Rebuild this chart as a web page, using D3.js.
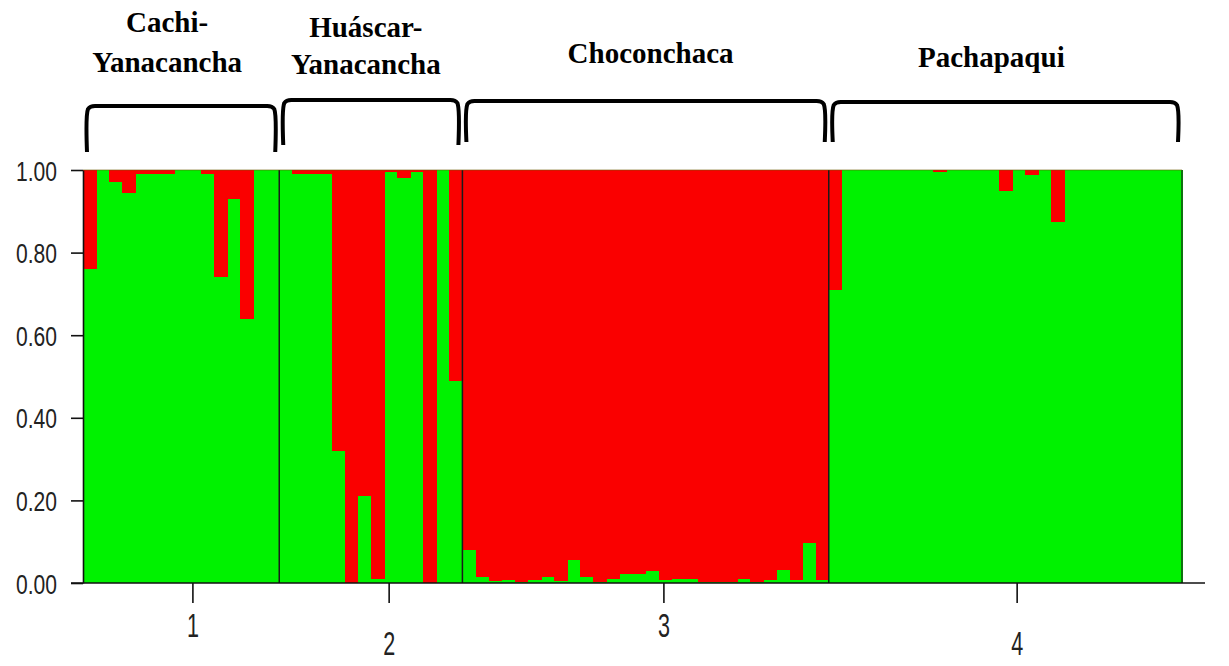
<!DOCTYPE html>
<html>
<head>
<meta charset="utf-8">
<script src="https://cdn.jsdelivr.net/npm/d3@7"></script>
<style>
  body { margin: 0; background: #fff; }
  svg { display: block; }
  .ylab text { font-family: "Liberation Sans", Arial, sans-serif; font-size: 28px; fill: #222; }
  .xlab { font-family: "Liberation Sans", Arial, sans-serif; font-size: 34px; fill: #222; }
  .title { font-family: "Liberation Serif", "Times New Roman", serif; font-weight: bold; font-size: 29px; fill: #000; }
</style>
</head>
<body>
<svg id="chart" width="1229" height="666"></svg>
<script>
// population labels + site names
var popLabels = ['1', '2', '3', '4'];
var popNames = [['Cachi-', 'Yanacancha'], ['Huáscar-', 'Yanacancha'], ['Choconchaca'], ['Pachapaqui']];

// membership in the green cluster per individual (red = 1 - green)
var pop1Green = [0.76, 1.0, 0.97, 0.945, 0.99, 0.99, 0.99, 1.0, 1.0, 0.99, 0.74, 0.93, 0.64, 1.0, 1.0];
var pop2Green = [1.0, 0.99, 0.99, 0.99, 0.32, 0.0, 0.21, 0.01, 0.995, 0.98, 0.995, 0.0, 1.0, 0.49];
var pop3Green = [0.08, 0.015, 0.004, 0.008, 0.003, 0.008, 0.014, 0.004, 0.055, 0.015, 0.003, 0.009, 0.022, 0.022,
                 0.029, 0.008, 0.009, 0.009, 0.003, 0.003, 0.003, 0.009, 0.003, 0.008, 0.031, 0.008, 0.098, 0.008];
var pop4Green = [0.71, 1.0, 1.0, 1.0, 1.0, 1.0, 1.0, 1.0, 0.995, 1.0, 1.0, 1.0, 1.0, 0.948,
                 1.0, 0.987, 1.0, 0.873, 1.0, 1.0, 1.0, 1.0, 1.0, 1.0, 1.0, 1.0, 1.0];

var yTicks = [0, 0.2, 0.4, 0.6, 0.8, 1.0];

var GREEN = '#00f200', RED = '#fa0000';

var svg = d3.select('#chart');

// build the individual list
var groups = [pop1Green, pop2Green, pop3Green, pop4Green];
var individuals = [];
var groupInfo = [];
groups.forEach(function (g, gi) {
  groupInfo.push({ start: individuals.length, n: g.length });
  g.forEach(function (v) { individuals.push({ pop: gi, green: v }); });
});

var x = d3.scaleBand().domain(d3.range(individuals.length)).range([83, 1182]).padding(0);
var y = d3.scaleLinear().domain([0, 1]).range([583, 170]);
var bw = x.bandwidth();

// bars: green at the bottom, red stacked above
var bars = svg.append('g').attr('shape-rendering', 'crispEdges');
bars.selectAll('rect.g').data(individuals).enter().append('rect')
  .attr('x', function (d, i) { return x(i); })
  .attr('width', bw + 0.6)
  .attr('y', function (d) { return y(d.green); })
  .attr('height', function (d) { return y(0) - y(d.green); })
  .attr('fill', GREEN);
bars.selectAll('rect.r').data(individuals).enter().append('rect')
  .attr('x', function (d, i) { return x(i); })
  .attr('width', bw + 0.6)
  .attr('y', y(1))
  .attr('height', function (d) { return y(d.green) - y(1); })
  .attr('fill', RED);

// population separators + frame
var frame = svg.append('g').attr('stroke', '#1a1a1a').attr('stroke-width', 1.5);
groupInfo.slice(1).forEach(function (g) {
  frame.append('line').attr('x1', x(g.start)).attr('x2', x(g.start)).attr('y1', y(1)).attr('y2', y(0));
});
frame.append('line').attr('x1', 1182).attr('x2', 1182).attr('y1', y(1)).attr('y2', y(0)).attr('stroke-width', 1.2);
frame.append('line').attr('x1', 83).attr('x2', 1182).attr('y1', y(1)).attr('y2', y(1))
  .attr('stroke', '#6b5a00').attr('stroke-width', 1).attr('opacity', 0.6);

// y axis (narrow, tall digits like the original screenshot)
var yAxis = d3.axisLeft(y).tickValues(yTicks).tickFormat(d3.format('.2f'))
  .tickSize(12).tickSizeOuter(0).tickPadding(14);
var ya = svg.append('g').attr('class', 'ylab').attr('transform', 'translate(83,0)').call(yAxis);
ya.selectAll('line').attr('stroke', '#111').attr('stroke-width', 1.6);
ya.select('.domain').attr('stroke', '#111').attr('stroke-width', 1.6);
ya.selectAll('text').attr('dy', '0.36em')
  .attr('textLength', 41).attr('lengthAdjust', 'spacingAndGlyphs');

// x axis line
svg.append('line').attr('x1', 71).attr('x2', 1205).attr('y1', y(0)).attr('y2', y(0))
  .attr('stroke', '#111').attr('stroke-width', 1.6);

// x ticks + staggered labels
groupInfo.forEach(function (g, gi) {
  var tx = x(g.start + Math.floor(g.n / 2) + 1) + 0.4 * bw;
  svg.append('line').attr('x1', tx).attr('x2', tx).attr('y1', y(0)).attr('y2', y(0) + 20)
    .attr('stroke', '#111').attr('stroke-width', 1.6);
  svg.append('text').attr('class', 'xlab').attr('x', tx - 6).attr('y', gi % 2 === 0 ? 637 : 655)
    .attr('textLength', 12).attr('lengthAdjust', 'spacingAndGlyphs')
    .text(popLabels[gi]);
});

// brackets + site titles
var titleDx = [-14, -5, 5, -14];
var titleBase = [[32, 72], [37, 74], [63], [67]];
var brTop = [106, 100, 101, 102];
var brBot = [152, 145, 142, 142];
groupInfo.forEach(function (g, gi) {
  var x0 = x(g.start) + 4, x1 = x(g.start + g.n - 1) + bw - 4;
  var t = brTop[gi], b = brBot[gi], r = 8;
  var p = d3.path();
  p.moveTo(x0, b);
  p.bezierCurveTo(x0 - 1, t + 20, x0 - 1, t + r, x0 + 1, t + 3);
  p.quadraticCurveTo(x0 + 3, t, x0 + r, t);
  p.lineTo(x1 - r, t);
  p.quadraticCurveTo(x1 - 3, t, x1 - 1, t + 3);
  p.bezierCurveTo(x1 + 1, t + r, x1 + 1, t + 20, x1, b);
  svg.append('path').attr('d', p.toString()).attr('fill', 'none')
    .attr('stroke', '#000').attr('stroke-width', 4);

  var cx = (x(g.start) + x(g.start + g.n - 1) + bw) / 2 + titleDx[gi];
  popNames[gi].forEach(function (line, li) {
    svg.append('text').attr('class', 'title').attr('x', cx).attr('y', titleBase[gi][li])
      .attr('text-anchor', 'middle').text(line);
  });
});
</script>
</body>
</html>
